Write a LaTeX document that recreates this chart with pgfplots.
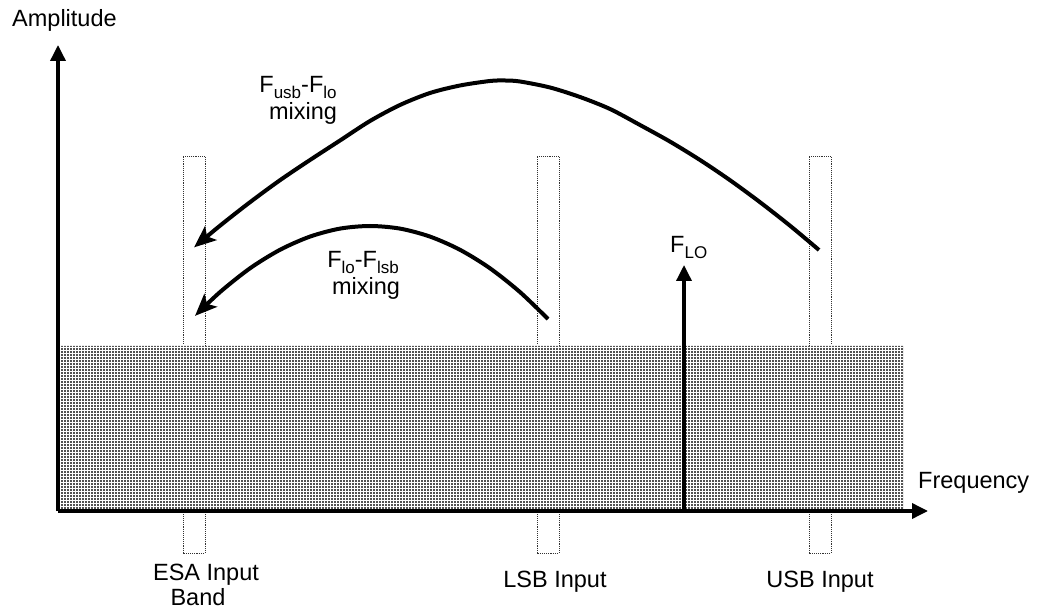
\documentclass[border=0pt]{standalone}
\usepackage{fontspec}
\setmainfont{Liberation Sans}
\usepackage{pgfplots}
\pgfplotsset{compat=1.18}
\usetikzlibrary{arrows.meta,patterns}
\newcommand{\sub}[1]{\raisebox{-6pt}{\fontsize{17}{17}\selectfont #1}}
\begin{document}
\begin{tikzpicture}[lbl/.style={font=\fontsize{23.5}{27}\selectfont, inner sep=0pt}]
\begin{axis}[
  width=1038pt, height=608pt, scale only axis,
  xmin=0, xmax=1038, ymin=0, ymax=608,
  hide axis, clip=false,
]
% invisible frame
\addplot[draw=none] coordinates {(0,0) (1038,608)};
% dotted band boxes
\addplot[densely dotted, line width=0.9pt, black!80] coordinates {(183,55) (183,452) (205,452) (205,55) (183,55)};
\addplot[densely dotted, line width=0.9pt, black!80] coordinates {(537,55) (537,452) (559,452) (559,55) (537,55)};
\addplot[densely dotted, line width=0.9pt, black!80] coordinates {(809,55) (809,452) (831,452) (831,55) (809,55)};
% shaded noise floor
\addplot[draw=none, fill=black!68, postaction={pattern=grid, pattern color=white}] coordinates {(58,97) (903,97) (903,262) (58,262) (58,97)};
% axes
\addplot[line width=3.5pt, -{Triangle[length=16pt,width=15pt]}] coordinates {(58,97) (928,97)};
\addplot[line width=3.5pt, -{Triangle[length=16pt,width=15pt]}] coordinates {(58,97) (58,563)};
% F_LO
\addplot[line width=3.5pt, -{Triangle[length=16pt,width=15pt]}] coordinates {(684,97) (684,343)};
% mixing curves
\addplot[line width=4pt, smooth, -{Stealth[length=22pt,width=18pt,inset=5pt]}] coordinates {
 (819,358) (790,382.3) (760,405.8) (730,427.8) (700,448.0) (670,466.4) (640,483) (610,499)
 (580,511) (550,520.5) (520,526.5) (505,527.5) (490,527) (460,522.5) (430,515) (400,503)
 (370,487) (340,467.5) (310,448.0) (280,427.8) (250,405.8) (220,382.3) (194,360.6)};
\addplot[line width=4pt, smooth, -{Stealth[length=22pt,width=18pt,inset=5pt]}] coordinates {
 (548,289.0) (520,315.9) (490,339.7) (460,358.2) (430,371.4) (400,379.4) (370,382)
 (340,379.4) (310,371.4) (280,358.2) (250,339.7) (220,315.9) (195,292.1)};
% labels
\node[lbl, anchor=base west] at (axis cs:12,581) {Amplitude};
\node[lbl, anchor=base west] at (axis cs:918,120) {Frequency};
\node[lbl, anchor=base west] at (axis cs:670,355) {F\sub{LO}};
\node[lbl, anchor=base] at (axis cs:298,515) {F\sub{usb}-F\sub{lo}};
\node[lbl, anchor=base] at (axis cs:303,488) {mixing};
\node[lbl, anchor=base] at (axis cs:363,340) {F\sub{lo}-F\sub{lsb}};
\node[lbl, anchor=base] at (axis cs:366,313) {mixing};
\node[lbl, anchor=base] at (axis cs:206,28) {ESA Input};
\node[lbl, anchor=base] at (axis cs:198,3) {Band};
\node[lbl, anchor=base] at (axis cs:555,21) {LSB Input};
\node[lbl, anchor=base] at (axis cs:820,21) {USB Input};
\end{axis}
\end{tikzpicture}
\end{document}
